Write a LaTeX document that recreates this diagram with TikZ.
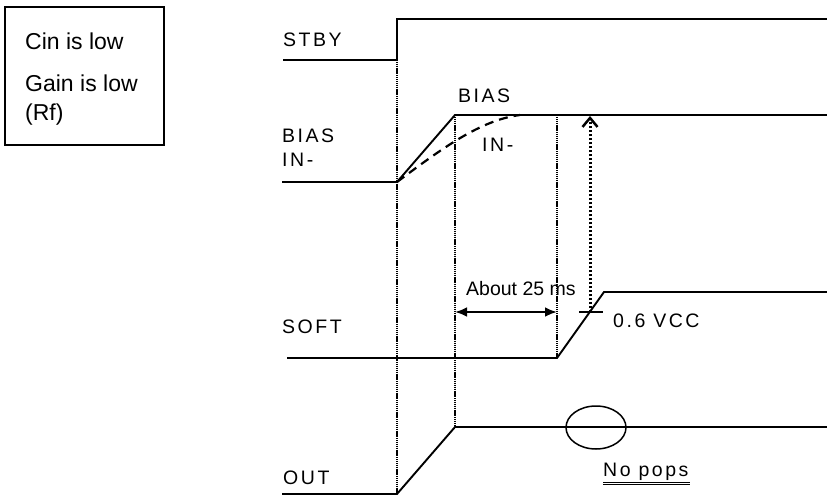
\documentclass[tikz,border=0pt]{standalone}
\usepackage{fontspec}
\setmainfont{Liberation Sans}
\newfontfamily\spacedfont[LetterSpace=13]{Liberation Sans}
\usetikzlibrary{arrows.meta,shapes.geometric}
\begin{document}
\begin{tikzpicture}[x=1pt,y=-1pt,
  wave/.style={line width=1.9pt, line join=miter},
  guide/.style={line width=1.6pt, dash pattern=on 1.2pt off 0.7pt},
  lbl/.style={anchor=base west, inner sep=0pt, font=\fontsize{19.5}{22}\selectfont\spacedfont},
  plainlbl/.style={anchor=base west, inner sep=0pt, font=\fontsize{19.5}{22}\selectfont},
  boxtxt/.style={anchor=base west, inner sep=0pt, font=\fontsize{23}{26}\selectfont}]
\useasboundingbox (0,0) rectangle (827,495);
% left box
\node[draw, line width=1.8pt, minimum width=159pt, minimum height=138pt, anchor=north west, inner sep=0pt] (box) at (4,6) {};
\node[boxtxt] (t1) at (25,49) {Cin is low};
\node[boxtxt] (t2) at (25,91) {Gain is low};
\node[boxtxt] (t3) at (25,120) {(Rf)};
% labels
\node[lbl] (stby) at (283,47) {STBY};
\node[lbl] (biasl) at (282,142) {BIAS};
\node[lbl] (inl) at (282,166) {IN-};
\node[lbl] (biast) at (458,102) {BIAS};
\node[lbl] (inr) at (482,151) {IN-};
\node[lbl] (soft) at (282,333) {SOFT};
\node[lbl] (out) at (283,484) {OUT};
\node[plainlbl] (about) at (466,295) {About 25 ms};
\node[lbl] (vcc) at (613,327) {0.6 VCC};
\node[lbl] (nopops) at (603,476) {No pops};
\draw[line width=0.9pt] (nopops.south west) ++(0,2) -- ++(87,0);
\draw[line width=0.9pt] (nopops.south west) ++(0,4.5) -- ++(87,0);
% coordinates
\coordinate (s0) at (283,60); \coordinate (s1) at (397,60); \coordinate (s2) at (397,19); \coordinate (s3) at (827,19);
\coordinate (b0) at (282,182); \coordinate (b1) at (397,182); \coordinate (b2) at (455,115); \coordinate (b3) at (827,115);
\coordinate (d1) at (520,115);
\coordinate (f0) at (287,358); \coordinate (f1) at (557,358); \coordinate (f2) at (604,292); \coordinate (f3) at (827,292);
\coordinate (o0) at (282,494); \coordinate (o1) at (397,494); \coordinate (o2) at (455,427); \coordinate (o3) at (827,427);
\coordinate (g1top) at (557,115);
\coordinate (ta) at (579,312); \coordinate (tb) at (603,312);
\coordinate (p0) at (590,312); \coordinate (p1) at (590,116);
\coordinate (a0) at (455,312); \coordinate (a1) at (557,312);
% guides
\draw[guide] (s1) -- (o1);
\draw[guide] (b2) -- (o2);
\draw[guide] (g1top) -- (f1);
% waveforms
\draw[wave] (s0) -- (s1) -- (s2) -- (s3);
\draw[wave] (b0) -- (b1) -- (b2) -- (b3);
\draw[wave, line width=2.2pt, dash pattern=on 9pt off 6pt] (b1) .. controls (440,150) and (480,120) .. (d1);
\draw[wave] (f0) -- (f1) -- (f2) -- (f3);
\draw[wave] (o0) -- (o1) -- (o2) -- (o3);
% tick and arrows
\draw[line width=1.5pt] (ta) -- (tb);
\draw[line width=3pt, dash pattern=on 2.5pt off 1.5pt, -{Straight Barb[length=9pt,width=15pt,line width=2.5pt]}] (p0) -- (p1);
\draw[line width=2.6pt, {Latex[length=12pt,width=10pt]}-{Latex[length=12pt,width=10pt]}] (a0) -- (a1);
% ellipse
\node[draw, ellipse, line width=1.5pt, minimum width=60pt, minimum height=43pt, inner sep=0pt] (pop) at (596,427.5) {};
\end{tikzpicture}
\end{document}
